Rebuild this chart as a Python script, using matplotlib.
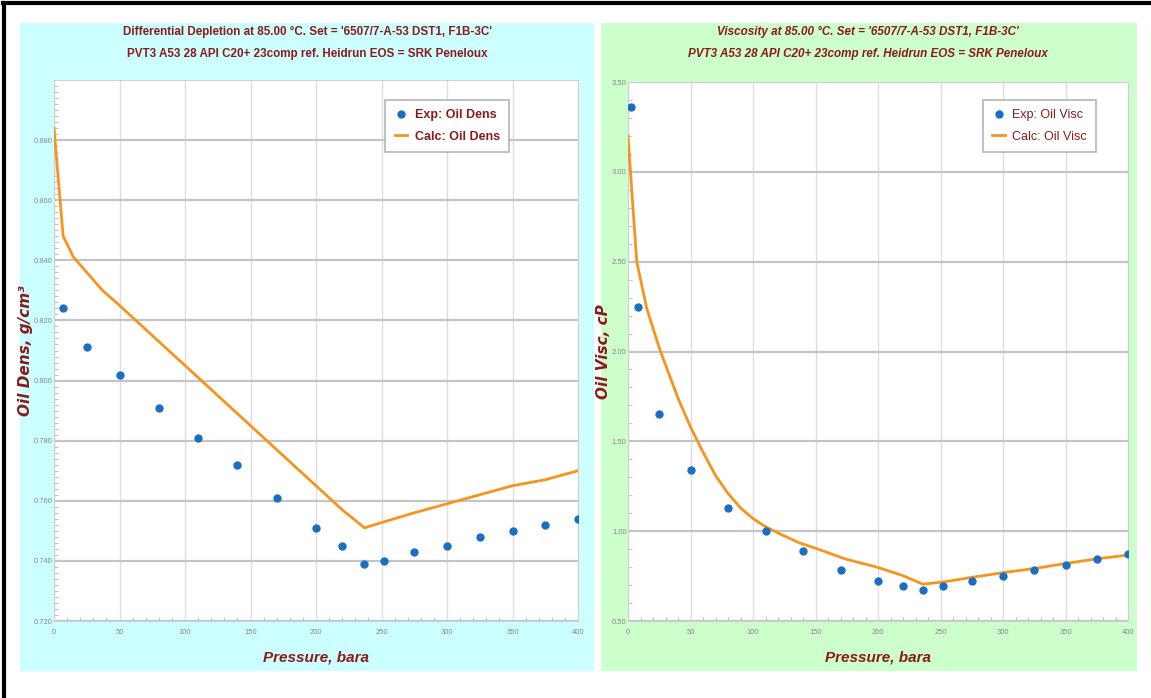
import matplotlib
matplotlib.use("Agg")
import matplotlib.pyplot as plt
from matplotlib.patches import Rectangle
from matplotlib.ticker import MultipleLocator, FormatStrFormatter

# experimental oil density
dens_exp_p = [7, 25, 50, 80, 110, 140, 170, 200, 220, 237, 252, 275, 300, 325, 350, 375, 400]
dens_exp = [0.824, 0.811, 0.802, 0.791, 0.781, 0.772, 0.761, 0.751, 0.745, 0.739,
            0.740, 0.743, 0.745, 0.748, 0.750, 0.752, 0.754]
# calculated oil density
dens_calc_p = [0, 7, 15, 25, 37, 50, 75, 100, 125, 150, 175, 200, 220, 237,
               252, 275, 300, 325, 350, 375, 400]
dens_calc = [0.884, 0.848, 0.841, 0.836, 0.830, 0.825, 0.815, 0.805, 0.795, 0.785,
             0.775, 0.765, 0.757, 0.751, 0.753, 0.756, 0.759, 0.762, 0.765, 0.767, 0.770]

# experimental oil viscosity
visc_exp_p = [2, 8, 25, 50, 80, 110, 140, 170, 200, 220, 236, 252, 275, 300, 325, 350, 375, 400]
visc_exp = [3.36, 2.25, 1.65, 1.34, 1.13, 1.00, 0.89, 0.785, 0.725, 0.695, 0.672,
            0.695, 0.722, 0.752, 0.785, 0.812, 0.843, 0.872]
# calculated oil viscosity
visc_calc_p = [0, 7, 15, 25, 33, 40, 50, 60, 70, 80, 90, 100, 110, 120, 137, 150,
               174, 199, 219, 236, 252, 276, 300, 326, 350, 375, 400]
visc_calc = [3.20, 2.50, 2.24, 2.02, 1.87, 1.74, 1.58, 1.44, 1.31, 1.21, 1.13, 1.07,
             1.025, 0.99, 0.935, 0.905, 0.845, 0.80, 0.755, 0.705, 0.717, 0.744,
             0.769, 0.793, 0.820, 0.846, 0.867]

dens_ticks = [0.72, 0.74, 0.76, 0.78, 0.80, 0.82, 0.84, 0.86, 0.88]

W, H = 1151, 698
DARK_RED = "#8b1a1a"
BLUE = "#1a6fc4"
ORANGE = "#f7941d"
NARROW = ["Liberation Sans", "DejaVu Sans"]

fig = plt.figure(figsize=(W / 100, H / 100), dpi=100)
fig.patch.set_facecolor("white")


def fx(px):
    return px / W


def fy(py):
    return 1 - py / H


# outer frame (left and top only)
fig.add_artist(plt.Line2D([fx(4), fx(4)], [fy(3), 0], color="black", lw=3))
fig.add_artist(plt.Line2D([fx(3), 1], [fy(3), fy(3)], color="black", lw=3))

# panel backgrounds
fig.add_artist(Rectangle((fx(20), fy(671)), fx(594 - 20), (671 - 23) / H,
                         facecolor="#ccffff", edgecolor="none", zorder=0))
fig.add_artist(Rectangle((fx(601), fy(671)), fx(1137 - 601), (671 - 23) / H,
                         facecolor="#ccffcc", edgecolor="none", zorder=0))


def make_axes(x0, x1, y0, y1):
    return fig.add_axes([fx(x0), fy(y1), fx(x1 - x0), (y1 - y0) / H])


def style_axes(ax, ymaj, ymin_step, fmt):
    ax.set_facecolor("white")
    ax.set_xlim(0, 400)
    ax.xaxis.set_major_locator(MultipleLocator(50))
    ax.xaxis.set_minor_locator(MultipleLocator(10))
    ax.yaxis.set_major_locator(MultipleLocator(ymaj))
    ax.yaxis.set_minor_locator(MultipleLocator(ymin_step))
    ax.yaxis.set_major_formatter(FormatStrFormatter(fmt))
    ax.grid(axis="x", which="major", color="#dedede", lw=1)
    ax.grid(axis="y", which="major", color="#c4c4c4", lw=1.6)
    ax.set_axisbelow(True)
    for s in ax.spines.values():
        s.set_color("#d0d0d0")
    ax.tick_params(which="major", length=0, labelsize=5.5, labelcolor="#8a8a8a")
    ax.tick_params(axis="x", which="major", pad=6)
    ax.tick_params(axis="y", which="major", pad=1)
    ax.tick_params(which="minor", direction="in", length=3, color="#b8b8b8")


def finish_labels(ax, ylabel):
    for lab in ax.get_xticklabels() + ax.get_yticklabels():
        lab.set_family(NARROW)
    ax.set_xlabel("Pressure, bara", fontsize=11, fontweight="bold", style="italic",
                  color=DARK_RED, family=NARROW)
    ax.xaxis.set_label_coords(0.5, -0.055)
    ax.set_ylabel(ylabel, fontsize=11, fontweight="bold", style="italic",
                  color=DARK_RED)


def add_legend(ax, anchor, weight):
    h, l = ax.get_legend_handles_labels()
    leg = ax.legend(h[::-1], l[::-1], loc="upper left", bbox_to_anchor=anchor,
                    fancybox=False, edgecolor="#b5b5b5", framealpha=1,
                    prop={"family": NARROW, "weight": weight, "size": 9},
                    handlelength=1.0, handletextpad=0.6, labelspacing=0.75,
                    borderpad=0.75, borderaxespad=0)
    leg.get_frame().set_linewidth(1.2)
    for t in leg.get_texts():
        t.set_color(DARK_RED)


# left: oil density
ax1 = make_axes(54, 578, 80, 621)
ax1.plot(dens_calc_p, dens_calc, color=ORANGE, lw=2, label="Calc: Oil Dens", zorder=3)
ax1.plot(dens_exp_p, dens_exp, "o", color=BLUE, ms=5, label="Exp: Oil Dens", zorder=4)
ax1.set_ylim(0.72, 0.90)
style_axes(ax1, 0.02, 0.002, "%.3f")
ax1.set_yticks(dens_ticks)
finish_labels(ax1, "Oil Dens, g/cm³")
ax1.yaxis.set_label_coords(-0.041, 0.5)
add_legend(ax1, (0.632, 0.963), "bold")

fig.text(fx(307), fy(32), "Differential Depletion at 85.00 °C. Set = '6507/7-A-53 DST1, F1B-3C'",
         ha="center", va="center", fontsize=8.4, fontweight="bold", color=DARK_RED, family=NARROW)
fig.text(fx(307), fy(54), "PVT3 A53 28 API C20+ 23comp ref. Heidrun EOS = SRK Peneloux",
         ha="center", va="center", fontsize=8.4, fontweight="bold", color=DARK_RED, family=NARROW)

# right: oil viscosity
ax2 = make_axes(628, 1128, 82, 621)
ax2.plot(visc_calc_p, visc_calc, color=ORANGE, lw=2, label="Calc: Oil Visc", zorder=3)
ax2.plot(visc_exp_p, visc_exp, "o", color=BLUE, ms=5, label="Exp: Oil Visc", zorder=4)
ax2.set_ylim(0.5, 3.5)
style_axes(ax2, 0.5, 0.1, "%.2f")
finish_labels(ax2, "Oil Visc, cP")
ax2.yaxis.set_label_coords(-0.035, 0.5)
add_legend(ax2, (0.71, 0.967), "normal")

fig.text(fx(868), fy(32), "Viscosity at 85.00 °C. Set = '6507/7-A-53 DST1, F1B-3C'",
         ha="center", va="center", fontsize=8.4, fontweight="bold", style="italic",
         color=DARK_RED, family=NARROW)
fig.text(fx(868), fy(54), "PVT3 A53 28 API C20+ 23comp ref. Heidrun EOS = SRK Peneloux",
         ha="center", va="center", fontsize=8.4, fontweight="bold", style="italic",
         color=DARK_RED, family=NARROW)

fig.savefig("out.png", dpi=100)
